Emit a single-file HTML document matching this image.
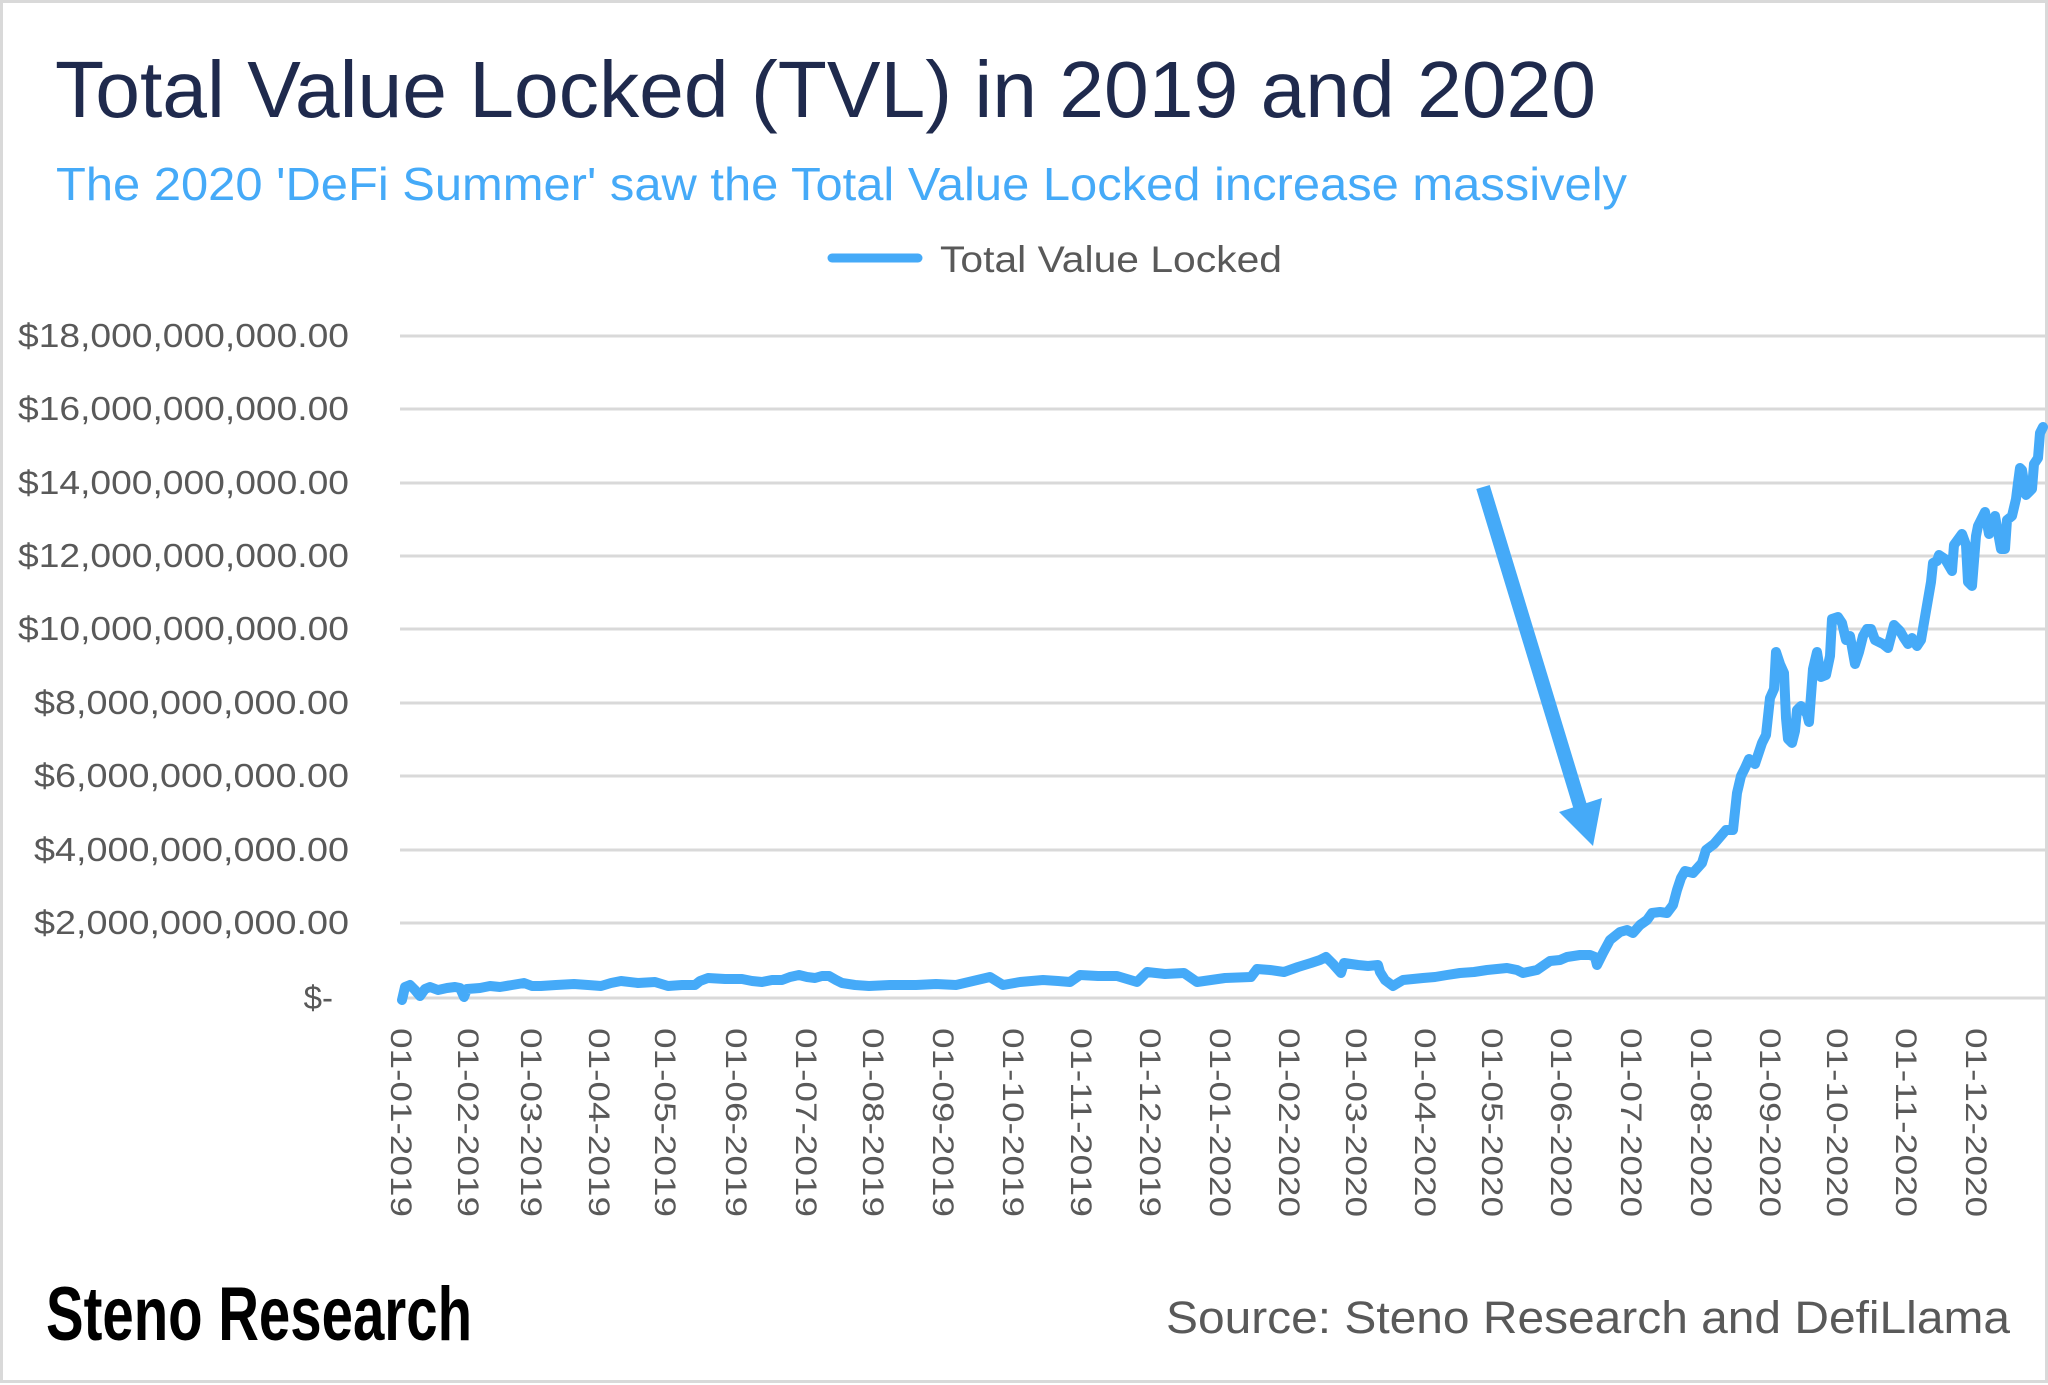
<!DOCTYPE html>
<html><head><meta charset="utf-8"><style>
html,body{margin:0;padding:0;background:#fff;}
svg{display:block;}
</style></head><body>
<svg width="2048" height="1385" viewBox="0 0 2048 1385" xmlns="http://www.w3.org/2000/svg">
<rect x="1.5" y="1.5" width="2045" height="1380" fill="#fff" stroke="#d9d9d9" stroke-width="3"/>
<text x="55" y="117" font-family="Liberation Sans, sans-serif" font-size="80" fill="#1f2a4d" textLength="1541" lengthAdjust="spacingAndGlyphs">Total Value Locked (TVL) in 2019 and 2020</text>
<text x="56" y="200" font-family="Liberation Sans, sans-serif" font-size="46" fill="#45aaf8" textLength="1571" lengthAdjust="spacingAndGlyphs">The 2020 'DeFi Summer' saw the Total Value Locked increase massively</text>
<line x1="832" y1="258" x2="918" y2="258" stroke="#45aaf8" stroke-width="9" stroke-linecap="round"/>
<text x="940" y="272" font-family="Liberation Sans, sans-serif" font-size="37" fill="#595959" textLength="342" lengthAdjust="spacingAndGlyphs">Total Value Locked</text>
<g stroke="#d9d9d9" stroke-width="3">
<line x1="400" y1="336" x2="2045" y2="336"/>
<line x1="400" y1="409" x2="2045" y2="409"/>
<line x1="400" y1="483" x2="2045" y2="483"/>
<line x1="400" y1="556" x2="2045" y2="556"/>
<line x1="400" y1="629" x2="2045" y2="629"/>
<line x1="400" y1="703" x2="2045" y2="703"/>
<line x1="400" y1="776" x2="2045" y2="776"/>
<line x1="400" y1="850" x2="2045" y2="850"/>
<line x1="400" y1="923" x2="2045" y2="923"/>
<line x1="400" y1="998" x2="2045" y2="998"/>
</g>
<g font-family="Liberation Sans, sans-serif" font-size="33" fill="#595959" text-anchor="end">
<text x="349" y="347" textLength="331" lengthAdjust="spacingAndGlyphs">$18,000,000,000.00</text>
<text x="349" y="420" textLength="331" lengthAdjust="spacingAndGlyphs">$16,000,000,000.00</text>
<text x="349" y="494" textLength="331" lengthAdjust="spacingAndGlyphs">$14,000,000,000.00</text>
<text x="349" y="567" textLength="331" lengthAdjust="spacingAndGlyphs">$12,000,000,000.00</text>
<text x="349" y="640" textLength="331" lengthAdjust="spacingAndGlyphs">$10,000,000,000.00</text>
<text x="349" y="714" textLength="315" lengthAdjust="spacingAndGlyphs">$8,000,000,000.00</text>
<text x="349" y="787" textLength="315" lengthAdjust="spacingAndGlyphs">$6,000,000,000.00</text>
<text x="349" y="861" textLength="315" lengthAdjust="spacingAndGlyphs">$4,000,000,000.00</text>
<text x="349" y="934" textLength="315" lengthAdjust="spacingAndGlyphs">$2,000,000,000.00</text>
<text x="333" y="1009">$-</text>
</g>
<g font-family="Liberation Sans, sans-serif" font-size="30" fill="#595959">
<text transform="translate(391,1028) rotate(90)" textLength="189" lengthAdjust="spacingAndGlyphs">01-01-2019</text>
<text transform="translate(458,1028) rotate(90)" textLength="189" lengthAdjust="spacingAndGlyphs">01-02-2019</text>
<text transform="translate(521,1028) rotate(90)" textLength="189" lengthAdjust="spacingAndGlyphs">01-03-2019</text>
<text transform="translate(589,1028) rotate(90)" textLength="189" lengthAdjust="spacingAndGlyphs">01-04-2019</text>
<text transform="translate(655,1028) rotate(90)" textLength="189" lengthAdjust="spacingAndGlyphs">01-05-2019</text>
<text transform="translate(726,1028) rotate(90)" textLength="189" lengthAdjust="spacingAndGlyphs">01-06-2019</text>
<text transform="translate(796,1028) rotate(90)" textLength="189" lengthAdjust="spacingAndGlyphs">01-07-2019</text>
<text transform="translate(863,1028) rotate(90)" textLength="189" lengthAdjust="spacingAndGlyphs">01-08-2019</text>
<text transform="translate(933,1028) rotate(90)" textLength="189" lengthAdjust="spacingAndGlyphs">01-09-2019</text>
<text transform="translate(1003,1028) rotate(90)" textLength="189" lengthAdjust="spacingAndGlyphs">01-10-2019</text>
<text transform="translate(1071,1028) rotate(90)" textLength="189" lengthAdjust="spacingAndGlyphs">01-11-2019</text>
<text transform="translate(1140,1028) rotate(90)" textLength="189" lengthAdjust="spacingAndGlyphs">01-12-2019</text>
<text transform="translate(1210,1028) rotate(90)" textLength="189" lengthAdjust="spacingAndGlyphs">01-01-2020</text>
<text transform="translate(1279,1028) rotate(90)" textLength="189" lengthAdjust="spacingAndGlyphs">01-02-2020</text>
<text transform="translate(1346,1028) rotate(90)" textLength="189" lengthAdjust="spacingAndGlyphs">01-03-2020</text>
<text transform="translate(1415,1028) rotate(90)" textLength="189" lengthAdjust="spacingAndGlyphs">01-04-2020</text>
<text transform="translate(1482,1028) rotate(90)" textLength="189" lengthAdjust="spacingAndGlyphs">01-05-2020</text>
<text transform="translate(1551,1028) rotate(90)" textLength="189" lengthAdjust="spacingAndGlyphs">01-06-2020</text>
<text transform="translate(1621,1028) rotate(90)" textLength="189" lengthAdjust="spacingAndGlyphs">01-07-2020</text>
<text transform="translate(1691,1028) rotate(90)" textLength="189" lengthAdjust="spacingAndGlyphs">01-08-2020</text>
<text transform="translate(1760,1028) rotate(90)" textLength="189" lengthAdjust="spacingAndGlyphs">01-09-2020</text>
<text transform="translate(1827,1028) rotate(90)" textLength="189" lengthAdjust="spacingAndGlyphs">01-10-2020</text>
<text transform="translate(1896,1028) rotate(90)" textLength="189" lengthAdjust="spacingAndGlyphs">01-11-2020</text>
<text transform="translate(1966,1028) rotate(90)" textLength="189" lengthAdjust="spacingAndGlyphs">01-12-2020</text>
</g>
<polyline fill="none" stroke="#45aaf8" stroke-width="10" stroke-linejoin="round" stroke-linecap="round" points="
402,1000 405,987 410,985 415,990 420,996 425,989 430,987 438,990 447,988 455,987 460,988 464,997 467,989 480,988 490,986 500,987 512,985 524,983 532,986 541,986 556,985 574,984 588,985 601,986 611,983 621,981 638,983 655,982 668,986 682,985 695,985 700,981 708,978 725,979 742,979 752,981 762,982 772,980 782,980 790,977 799,975 807,977 815,978 822,976 829,976 836,980 842,983 855,985 869,986 890,985 916,985 936,984 956,985 973,981 990,977 1003,985 1020,982 1043,980 1058,981 1070,982 1080,975 1098,976 1117,976 1127,979 1137,982 1147,972 1165,974 1184,973 1197,982 1225,978 1251,977 1257,969 1270,970 1284,972 1298,967 1311,963 1320,960 1326,957 1333,964 1341,973 1344,963 1358,965 1368,966 1378,965 1380,972 1385,980 1393,986 1403,980 1413,979 1423,978 1435,977 1447,975 1460,973 1474,972 1487,970 1507,968 1517,970 1523,973 1537,970 1550,961 1560,960 1567,957 1580,955 1590,955 1595,957 1597,965 1603,953 1610,940 1620,932 1627,930 1633,933 1640,925 1647,920 1652,913 1660,912 1667,913 1673,905 1677,890 1681,878 1685,871 1693,873 1702,863 1706,850 1714,844 1726,830 1733,830 1737,793 1741,776 1745,768 1749,759 1755,764 1762,743 1766,735 1770,698 1774,689 1776,652 1780,664 1784,673 1786,718 1788,739 1792,743 1795,731 1797,710 1801,706 1807,714 1809,722 1813,669 1817,652 1821,677 1826,675 1830,656 1832,619 1838,617 1842,623 1846,640 1850,636 1855,664 1859,652 1863,636 1867,629 1871,629 1875,640 1883,644 1888,648 1894,625 1900,631 1904,638 1908,644 1912,638 1917,646 1921,640 1926,611 1931,582 1933,563 1937,561 1939,555 1945,559 1952,571 1954,545 1962,534 1966,545 1968,582 1972,586 1976,536 1978,526 1985,512 1989,534 1995,516 2001,549 2005,549 2007,520 2012,516 2016,499 2018,483 2020,468 2022,470 2026,495 2032,489 2034,464 2038,458 2040,433 2043,427"/>
<line x1="1483" y1="487" x2="1580" y2="806" stroke="#45aaf8" stroke-width="14"/>
<polygon points="1559,812 1602,798 1593,846" fill="#45aaf8"/>
<text x="46" y="1340" font-family="Liberation Sans Narrow, Liberation Sans, sans-serif" font-weight="bold" font-size="76" fill="#000" textLength="426" lengthAdjust="spacingAndGlyphs">Steno Research</text>
<text x="1166" y="1333" font-family="Liberation Sans, sans-serif" font-size="45" fill="#595959" textLength="844" lengthAdjust="spacingAndGlyphs">Source: Steno Research and DefiLlama</text>
</svg>
</body></html>
